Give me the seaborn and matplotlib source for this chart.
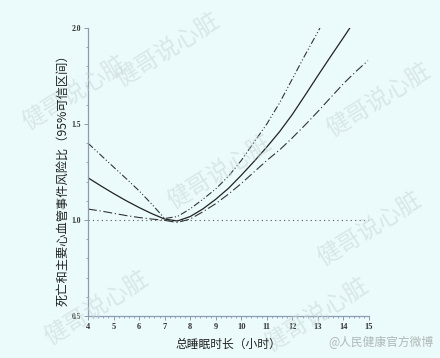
import matplotlib
matplotlib.use("Agg")
import numpy as np
import pandas as pd
import seaborn as sns
import matplotlib.pyplot as plt
import matplotlib.ticker as ticker

# 点估计（实线）
hr_x = [4, 4.5, 5, 5.5, 6, 6.5, 7, 7.5, 8, 8.5, 9, 9.5, 10, 10.5, 11, 11.5, 12, 12.5, 13, 13.5, 14, 14.25]
hr_y = [1.22, 1.178, 1.138, 1.1, 1.065, 1.033, 1.005, 0.995, 1.018, 1.058, 1.108, 1.165, 1.233, 1.305,
        1.38, 1.46, 1.55, 1.65, 1.752, 1.852, 1.95, 2.0]

# 95% CI 上限
upper_x = [4, 4.5, 5, 5.5, 6, 6.5, 7, 7.5, 8, 8.5, 9, 9.5, 10, 10.5, 11, 11.5, 12, 12.5, 13, 13.08]
upper_y = [1.40, 1.338, 1.276, 1.215, 1.152, 1.082, 1.008, 1.018, 1.058, 1.108, 1.162, 1.228, 1.31, 1.405,
           1.50, 1.61, 1.735, 1.86, 1.98, 2.0]

# 95% CI 下限
lower_x = [4, 4.5, 5, 5.5, 6, 6.5, 7, 7.5, 8, 8.5, 9, 9.5, 10, 10.5, 11, 11.5, 12, 12.5, 13, 13.5, 14, 14.5, 14.96]
lower_y = [1.057, 1.047, 1.035, 1.023, 1.013, 1.005, 0.998, 0.987, 1.005, 1.043, 1.085, 1.135, 1.19, 1.25,
           1.31, 1.365, 1.428, 1.495, 1.565, 1.638, 1.71, 1.775, 1.83]

x_ticks = [4, 5, 6, 7, 8, 9, 10, 11, 12, 13, 14, 15]
y_ticks = [0.5, 1.0, 1.5, 2.0]

bg = "#ebfbfb"
axis_col = "#8b9bb0"

sns.set_style("white")
plt.rcParams["font.family"] = ["Noto Sans CJK SC", "DejaVu Sans"]

fig = plt.figure(figsize=(4.4, 3.58), dpi=100, facecolor=bg)
ax = fig.add_axes([0.2, 0.1173, 0.6386, 0.8045])
ax.set_facecolor(bg)

df_hr = pd.DataFrame({"x": hr_x, "y": hr_y})
df_up = pd.DataFrame({"x": upper_x, "y": upper_y})
df_lo = pd.DataFrame({"x": lower_x, "y": lower_y})

# 参考线 HR = 1
ax.plot([4, 15], [1, 1], color="#555555", lw=0.8, linestyle=(0, (1, 3)))

sns.lineplot(data=df_hr, x="x", y="y", ax=ax, color="#222222", lw=0.9, sort=False)
sns.lineplot(data=df_up, x="x", y="y", ax=ax, color="#333333", lw=0.8, sort=False,
             linestyle=(0, (6, 2, 1, 2, 1, 2)))
sns.lineplot(data=df_lo, x="x", y="y", ax=ax, color="#333333", lw=0.8, sort=False,
             linestyle=(0, (8, 2.5, 1, 2.5)))

ax.set_xlim(4, 15)
ax.set_ylim(0.5, 2.0)
ax.set_xticks(x_ticks)
ax.set_yticks(y_ticks)
ax.set_xticklabels([str(t) for t in x_ticks], family="Liberation Serif", fontsize=6, fontweight="bold", color="#333333")
ax.set_yticklabels([f"{t:.1f}" for t in y_ticks], family="Liberation Serif", fontsize=5.5, fontweight="bold", color="#333333")
ax.xaxis.set_minor_locator(ticker.MultipleLocator(0.2))
ax.yaxis.set_minor_locator(ticker.MultipleLocator(0.1))
ax.tick_params(axis="both", which="major", direction="out", length=3, width=0.7, color=axis_col, pad=2)
ax.tick_params(axis="both", which="minor", direction="out", length=1.5, width=0.6, color=axis_col)
ax.tick_params(axis="x", which="both", bottom=True)
ax.tick_params(axis="y", which="both", left=True)

for side in ["top", "right"]:
    ax.spines[side].set_visible(False)
for side in ["left", "bottom"]:
    ax.spines[side].set_color(axis_col)
    ax.spines[side].set_linewidth(0.9)

ax.set_xlabel("")
ax.set_ylabel("")
fig.text(0.52, 0.037, "总睡眠时长（小时）", ha="center", va="center", fontsize=8.5, color="#222222")
fig.text(0.142, 0.505, "死亡和主要心血管事件风险比（95%可信区间）", ha="center", va="center",
         rotation=90, fontsize=8.8, color="#222222")

# 水印
wm = dict(fontsize=17, color="#c9d6d6", alpha=0.55, rotation=32, ha="center", va="center", zorder=0)
for (wx, wy) in [(0.38, 0.86), (0.17, 0.74), (0.86, 0.72), (0.50, 0.52), (0.22, 0.14), (0.84, 0.36), (0.72, 0.12)]:
    fig.text(wx, wy, "健哥说心脏", **wm)
fig.text(0.865, 0.042, "@人民健康官方微博", ha="center", va="center", fontsize=8.5, color="#b0b8b8")

fig.savefig("out.png", dpi=100, facecolor=bg)
